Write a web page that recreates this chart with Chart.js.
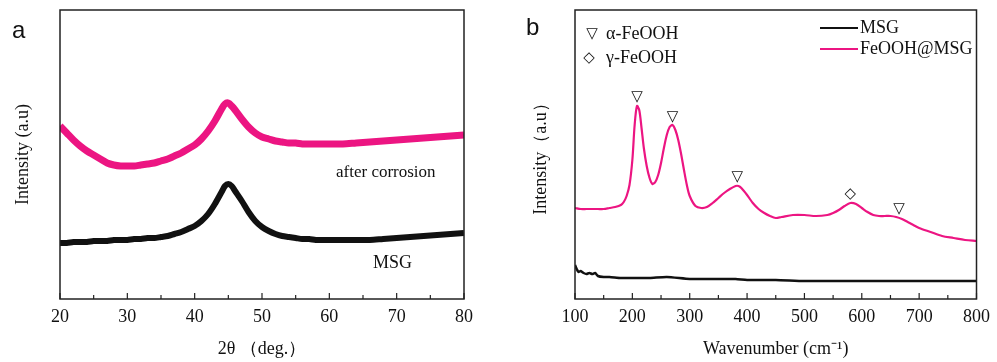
<!DOCTYPE html>
<html>
<head>
<meta charset="utf-8">
<script src="https://cdn.jsdelivr.net/npm/chart.js@4/dist/chart.umd.min.js"></script>
<style>
  html, body { margin: 0; padding: 0; background: #fff; }
  #caixaA { position: absolute; left: 0; top: 0; width: 497px; height: 362px; }
  #caixaB { position: absolute; left: 497px; top: 0; width: 500px; height: 362px; }
</style>
</head>
<body>
<div id="caixaA"><canvas id="graficoXRD"></canvas></div>
<div id="caixaB"><canvas id="graficoRaman"></canvas></div>
<script>
// ---- painel a: XRD ----
var anguloXRD = [20, 21, 22, 23, 24, 25, 26, 27, 28, 29, 30, 31, 32, 33, 34, 35, 36, 37, 38, 39, 40, 41, 42, 43, 44, 44.5, 45, 45.5, 46, 47, 48, 49, 50, 51, 52, 53, 54, 55, 56, 57, 58, 59, 60, 62, 64, 66, 68, 70, 72, 74, 76, 78, 80];
var xrdCorrosao = [173, 166, 159, 153, 148, 144, 140, 136, 134, 133, 133, 133, 134, 135, 136, 138, 140, 143, 146, 150, 154, 160, 168, 178, 190, 195, 196, 193, 189, 180, 172, 166, 162, 160, 158, 157, 156, 156, 155, 155, 155, 155, 155, 155, 156, 157, 158, 159, 160, 161, 162, 163, 164];
var xrdMSG = [56, 56, 57, 57, 57, 58, 58, 58, 59, 59, 59, 60, 60, 61, 61, 62, 63, 65, 67, 70, 73, 78, 85, 95, 107, 113, 115, 113, 108, 98, 87, 78, 72, 68, 65, 63, 62, 61, 60, 60, 59, 59, 59, 59, 59, 59, 60, 61, 62, 63, 64, 65, 66];
var ticksMaioresA = [20, 30, 40, 50, 60, 70, 80];
var ticksMenoresA = [25, 35, 45, 55, 65, 75];

// ---- painel b: Raman ----
var numeroOndaFeOOH = [100, 110, 120, 130, 140, 150, 160, 170, 180, 185, 190, 195, 200, 204, 208, 212, 216, 220, 225, 230, 235, 240, 245, 250, 255, 260, 265, 270, 275, 280, 285, 290, 295, 300, 310, 320, 330, 340, 350, 360, 370, 380, 385, 390, 400, 410, 420, 430, 440, 450, 460, 480, 500, 520, 540, 550, 560, 570, 580, 590, 600, 610, 620, 630, 640, 650, 660, 670, 680, 690, 700, 720, 740, 760, 780, 800];
var ramanFeOOH = [91, 90, 90, 90, 90, 90, 91, 92, 94, 97, 103, 114, 139, 174, 193, 189, 171, 151, 133, 121, 115, 117, 124, 136, 151, 164, 172, 174, 169, 159, 145, 129, 114, 103, 93, 91, 92, 96, 101, 106, 110, 113, 113, 111, 104, 96, 90, 86, 83, 81, 82, 84, 84, 83, 84, 86, 89, 93, 96, 95, 91, 87, 84, 83, 83, 83, 82, 80, 77, 74, 71, 67, 63, 61, 59, 58];
var numeroOndaMSG = [100, 103, 106, 110, 115, 120, 125, 130, 135, 140, 150, 160, 180, 200, 230, 260, 300, 340, 380, 400, 450, 500, 600, 700, 800];
var ramanMSG = [34, 30, 27, 28, 26, 25, 26, 25, 26, 23, 22, 22, 21, 21, 21, 22, 20, 20, 20, 19, 19, 18, 18, 18, 18];
var ticksMaioresB = [100, 200, 300, 400, 500, 600, 700, 800];
var ticksMenoresB = [150, 250, 350, 450, 550, 650, 750];
var picosX = [208, 270, 383, 580, 665];
var picosY = [202, 182, 122, 105, 90];
var picosSimbolo = ["▽", "▽", "▽", "◇", "▽"];

var corRosa = "#EC1582";
var corPreta = "#111111";
var fonteSerif = "'Liberation Serif', 'Times New Roman', serif";

function juntarPontos(xs, ys) {
  var pontos = [];
  for (var i = 0; i < xs.length; i++) {
    pontos.push({ x: xs[i], y: ys[i] });
  }
  return pontos;
}

// moldura + ticks para dentro
function pluginMoldura(maiores, menores) {
  return {
    id: "moldura",
    afterDatasetsDraw(chart) {
      var ctx = chart.ctx;
      var area = chart.chartArea;
      var escalaX = chart.scales.x;
      ctx.save();
      ctx.strokeStyle = "#222";
      ctx.lineWidth = 1.5;
      ctx.strokeRect(area.left, area.top, area.right - area.left, area.bottom - area.top);
      ctx.lineWidth = 1.2;
      ctx.beginPath();
      maiores.forEach(function (v) {
        var px = escalaX.getPixelForValue(v);
        ctx.moveTo(px, area.bottom);
        ctx.lineTo(px, area.bottom - 6);
      });
      menores.forEach(function (v) {
        var px = escalaX.getPixelForValue(v);
        ctx.moveTo(px, area.bottom);
        ctx.lineTo(px, area.bottom - 4);
      });
      ctx.stroke();
      ctx.restore();
    },
  };
}

function pluginTextos(desenhar) {
  return {
    id: "textos",
    afterDraw(chart) {
      var ctx = chart.ctx;
      ctx.save();
      desenhar(chart, ctx);
      ctx.restore();
    },
  };
}

function opcoesEixos(min, max, passo, tituloX, tituloY, larguraY, padTituloY) {
  return {
    x: {
      type: "linear",
      min: min,
      max: max,
      grid: { display: false, drawTicks: false },
      border: { display: false },
      ticks: {
        stepSize: passo,
        padding: 7,
        color: "#111",
        font: { family: fonteSerif, size: 18 },
      },
      title: {
        display: true,
        text: tituloX,
        color: "#111",
        font: { family: fonteSerif, size: 18 },
        padding: { top: 0, bottom: 2 },
      },
      afterFit: function (escala) {
        escala.height = 63;
      },
    },
    y: {
      min: 0,
      max: 289,
      grid: { display: false, drawTicks: false },
      border: { display: false },
      ticks: { display: false },
      title: {
        display: true,
        text: tituloY,
        color: "#111",
        font: { family: fonteSerif, size: 18 },
        padding: { top: padTituloY, bottom: 0 },
      },
      afterFit: function (escala) {
        escala.width = larguraY;
      },
    },
  };
}

function plotarXRD() {
  new Chart(graficoXRD, {
    type: "line",
    data: {
      datasets: [
        {
          label: "after corrosion",
          data: juntarPontos(anguloXRD, xrdCorrosao),
          borderColor: corRosa,
          borderWidth: 7,
          pointRadius: 0,
          tension: 0.3,
        },
        {
          label: "MSG",
          data: juntarPontos(anguloXRD, xrdMSG),
          borderColor: corPreta,
          borderWidth: 6,
          pointRadius: 0,
          tension: 0.3,
        },
      ],
    },
    options: {
      responsive: true,
      maintainAspectRatio: false,
      animation: false,
      layout: { padding: { left: 0, right: 33, top: 10, bottom: 0 } },
      scales: opcoesEixos(20, 80, 10, "2θ （deg.）", "Intensity (a.u)", 60, 12),
      plugins: { legend: { display: false }, tooltip: { enabled: false } },
    },
    plugins: [
      pluginMoldura(ticksMaioresA, ticksMenoresA),
      pluginTextos(function (chart, ctx) {
        ctx.fillStyle = "#111";
        ctx.textBaseline = "middle";
        ctx.font = "24px 'Liberation Sans', sans-serif";
        ctx.fillText("a", 12, 31);
        ctx.font = "17px " + fonteSerif;
        ctx.fillText("after corrosion", 336, 173);
        ctx.font = "18px " + fonteSerif;
        ctx.fillText("MSG", 373, 263);
      }),
    ],
  });
}

function plotarRaman() {
  new Chart(graficoRaman, {
    type: "line",
    data: {
      datasets: [
        {
          label: "MSG",
          data: juntarPontos(numeroOndaMSG, ramanMSG),
          borderColor: corPreta,
          borderWidth: 2.5,
          pointRadius: 0,
          tension: 0.2,
        },
        {
          label: "FeOOH@MSG",
          data: juntarPontos(numeroOndaFeOOH, ramanFeOOH),
          borderColor: corRosa,
          borderWidth: 2.2,
          pointRadius: 0,
          tension: 0.3,
        },
      ],
    },
    options: {
      responsive: true,
      maintainAspectRatio: false,
      animation: false,
      layout: { padding: { left: 0, right: 18, top: 10, bottom: 0 } },
      scales: opcoesEixos(100, 800, 100, "Wavenumber (cm⁻¹)", "Intensity（a.u）", 78, 33),
      plugins: { legend: { display: false }, tooltip: { enabled: false } },
    },
    plugins: [
      pluginMoldura(ticksMaioresB, ticksMenoresB),
      pluginTextos(function (chart, ctx) {
        var escalaX = chart.scales.x;
        var escalaY = chart.scales.y;
        ctx.fillStyle = "#111";
        ctx.textBaseline = "middle";
        ctx.font = "24px 'Liberation Sans', sans-serif";
        ctx.fillText("b", 29, 28);

        // marcadores dos picos
        ctx.textAlign = "center";
        ctx.font = "bold 15px 'DejaVu Sans', sans-serif";
        for (var i = 0; i < picosX.length; i++) {
          ctx.fillText(picosSimbolo[i], escalaX.getPixelForValue(picosX[i]), escalaY.getPixelForValue(picosY[i]));
        }

        // chave dos simbolos
        ctx.fillText("▽", 95, 34);
        ctx.fillText("◇", 92, 58);
        ctx.textAlign = "left";
        ctx.font = "18px " + fonteSerif;
        ctx.fillText("α-FeOOH", 109, 34);
        ctx.fillText("γ-FeOOH", 109, 58);

        // legenda
        var cores = [corPreta, corRosa];
        var nomes = ["MSG", "FeOOH@MSG"];
        var linhasY = [28, 49];
        for (var j = 0; j < nomes.length; j++) {
          ctx.strokeStyle = cores[j];
          ctx.lineWidth = 2;
          ctx.beginPath();
          ctx.moveTo(323, linhasY[j]);
          ctx.lineTo(361, linhasY[j]);
          ctx.stroke();
          ctx.fillText(nomes[j], 363, linhasY[j]);
        }
      }),
    ],
  });
}

plotarXRD();
plotarRaman();
</script>
</body>
</html>
